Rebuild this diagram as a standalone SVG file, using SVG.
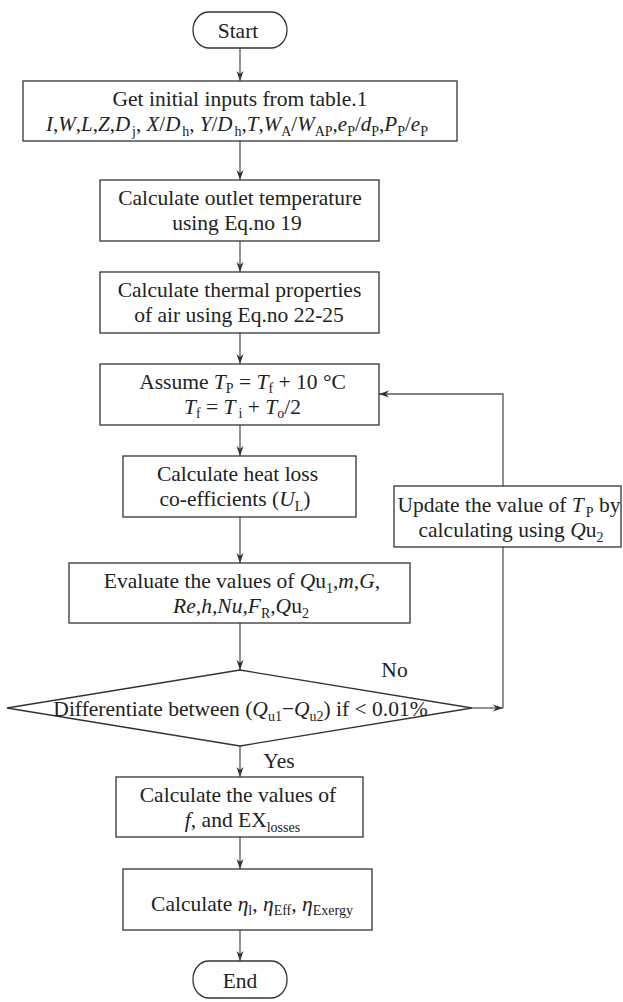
<svg xmlns="http://www.w3.org/2000/svg" width="623" height="1002" viewBox="0 0 623 1002">
<style>
.box{fill:#fff;stroke:#333;stroke-width:1.3}
.con{fill:none;stroke:#555;stroke-width:1.3}
.t{font-family:"Liberation Serif","Times New Roman",serif;font-size:21.5px;fill:#222;text-anchor:middle}
.i{font-style:italic}
.s{font-size:14px;font-style:normal}
</style>
<defs>
<marker id="ah" viewBox="0 0 10 8" refX="10" refY="4" markerWidth="10" markerHeight="8" markerUnits="userSpaceOnUse" orient="auto">
<path d="M0,0.5 L10,4 L0,7.5 L3,4 z" fill="#333"/>
</marker>
</defs>
<rect width="623" height="1002" fill="#fff"/>
<g id="connectors">
<path class="con" d="M240,48 V81" marker-end="url(#ah)"/>
<path class="con" d="M240,141 V180" marker-end="url(#ah)"/>
<path class="con" d="M240,241 V272" marker-end="url(#ah)"/>
<path class="con" d="M240,333 V364" marker-end="url(#ah)"/>
<path class="con" d="M240,425 V456" marker-end="url(#ah)"/>
<path class="con" d="M240,517 V563" marker-end="url(#ah)"/>
<path class="con" d="M240,623 V670" marker-end="url(#ah)"/>
<path class="con" d="M472,708 H503" marker-end="url(#ah)"/>
<path class="con" d="M503,708 V547"/>
<path class="con" d="M503,486 V394 H379" marker-end="url(#ah)"/>
<path class="con" d="M240,746 V777" marker-end="url(#ah)"/>
<path class="con" d="M240,837 V869" marker-end="url(#ah)"/>
<path class="con" d="M240,930 V961" marker-end="url(#ah)"/>
<text class="t" x="394.5" y="677">No</text>
<text class="t" x="279" y="768">Yes</text>
</g>
<g id="start">
<rect class="box" x="193" y="12" width="94" height="36" rx="16" ry="18"/>
<text class="t" x="238" y="38">Start</text>
</g>
<g id="inputs">
<rect class="box" x="23" y="81" width="434" height="60"/>
<text class="t" x="240" y="106">Get initial inputs from table.1</text>
<text class="t" x="237" y="131" style="font-size:21px"><tspan class="i">I</tspan>,<tspan class="i">W</tspan>,<tspan class="i">L</tspan>,<tspan class="i">Z</tspan>,<tspan class="i">D</tspan><tspan class="s" dx="2" dy="5">j</tspan><tspan dy="-5">, </tspan><tspan class="i">X</tspan>/<tspan class="i">D</tspan><tspan class="s" dx="2" dy="5">h</tspan><tspan dy="-5">, </tspan><tspan class="i">Y</tspan>/<tspan class="i">D</tspan><tspan class="s" dx="2" dy="5">h</tspan><tspan dy="-5">,</tspan><tspan class="i">T</tspan>,<tspan class="i">W</tspan><tspan class="s" dy="5">A</tspan><tspan dy="-5">/</tspan><tspan class="i">W</tspan><tspan class="s" dy="5">AP</tspan><tspan dy="-5">,</tspan><tspan class="i">e</tspan><tspan class="s" dy="5">P</tspan><tspan dy="-5">/</tspan><tspan class="i">d</tspan><tspan class="s" dy="5">P</tspan><tspan dy="-5">,</tspan><tspan class="i">P</tspan><tspan class="s" dy="5">P</tspan><tspan dy="-5">/</tspan><tspan class="i">e</tspan><tspan class="s" dy="5">P</tspan></text>
</g>
<g id="outlet">
<rect class="box" x="100" y="180" width="279" height="61"/>
<text class="t" x="240" y="205">Calculate outlet temperature</text>
<text class="t" x="237" y="230">using Eq.no 19</text>
</g>
<g id="thermal">
<rect class="box" x="100" y="272" width="279" height="61"/>
<text class="t" x="239.5" y="297">Calculate thermal properties</text>
<text class="t" x="239" y="322">of air using Eq.no 22-25</text>
</g>
<g id="assume">
<rect class="box" x="100" y="364" width="279" height="61"/>
<text class="t" x="242.5" y="389">Assume <tspan class="i">T</tspan><tspan class="s" dy="4">P</tspan><tspan dy="-4"> = </tspan><tspan class="i">T</tspan><tspan class="s" dy="4">f</tspan><tspan dy="-4"> + 10 °C</tspan></text>
<text class="t" x="242.5" y="414"><tspan class="i">T</tspan><tspan class="s" dy="4">f</tspan><tspan dy="-4"> = </tspan><tspan class="i">T</tspan><tspan class="s" dx="3" dy="4">i</tspan><tspan dy="-4"> + </tspan><tspan class="i">T</tspan><tspan class="s" dy="4">o</tspan><tspan dy="-4">/2</tspan></text>
</g>
<g id="heatloss">
<rect class="box" x="123" y="456" width="233" height="61"/>
<text class="t" x="237.5" y="481">Calculate heat loss</text>
<text class="t" x="235" y="506">co-efficients (<tspan class="i">U</tspan><tspan class="s" dy="5">L</tspan><tspan dy="-5">)</tspan></text>
</g>
<g id="update">
<rect class="box" x="394" y="486" width="227" height="61"/>
<text class="t" x="509" y="512">Update the value of <tspan class="i">T</tspan><tspan class="s" dx="2" dy="5">P</tspan><tspan dy="-5"> by</tspan></text>
<text class="t" x="511" y="537">calculating using <tspan class="i">Q</tspan>u<tspan class="s" dy="5">2</tspan></text>
</g>
<g id="evaluate">
<rect class="box" x="69" y="563" width="341" height="60"/>
<text class="t" x="242" y="588">Evaluate the values of <tspan class="i">Q</tspan>u<tspan class="s" dy="5">1</tspan><tspan dy="-5">,</tspan><tspan class="i">m</tspan>,<tspan class="i">G</tspan>,</text>
<text class="t" x="241" y="613"><tspan class="i">Re,h,Nu,F</tspan><tspan class="s" dy="5">R</tspan><tspan dy="-5">,</tspan><tspan class="i">Q</tspan>u<tspan class="s" dy="5">2</tspan></text>
</g>
<g id="decision">
<polygon points="240,670 472,708 240,746 7,708" style="fill:none;stroke:#333;stroke-width:1.3"/>
<text class="t" x="240.5" y="716">Differentiate between (<tspan class="i">Q</tspan><tspan class="s" dy="5">u1</tspan><tspan dy="-5">−</tspan><tspan class="i">Q</tspan><tspan class="s" dy="5">u2</tspan><tspan dy="-5">) if &lt; 0.01%</tspan></text>
</g>
<g id="losses">
<rect class="box" x="116" y="777" width="247" height="60"/>
<text class="t" x="238" y="802">Calculate the values of</text>
<text class="t" x="242.5" y="827"><tspan class="i">f</tspan>, and EX<tspan class="s" dy="5">losses</tspan></text>
</g>
<g id="efficiency">
<rect class="box" x="123" y="869" width="249" height="61"/>
<text class="t" x="252" y="911">Calculate <tspan class="i">η</tspan><tspan class="s" dy="4">l</tspan><tspan dy="-4">, </tspan><tspan class="i">η</tspan><tspan class="s" dy="4">Eff</tspan><tspan dy="-4">, </tspan><tspan class="i">η</tspan><tspan class="s" dy="4">Exergy</tspan></text>
</g>
<g id="end">
<rect class="box" x="193" y="961" width="94" height="37" rx="16" ry="18"/>
<text class="t" x="240" y="988">End</text>
</g>
</svg>
